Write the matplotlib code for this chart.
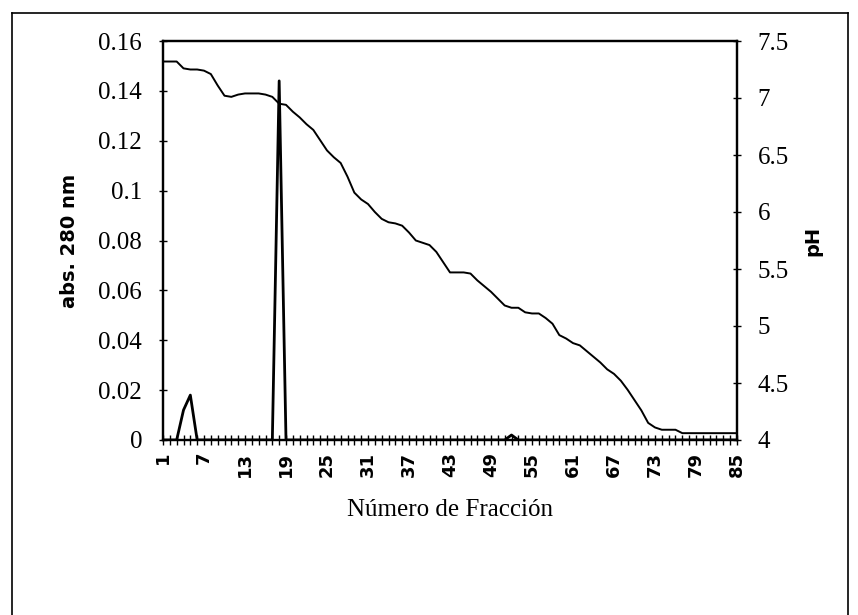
import numpy as np
import matplotlib.pyplot as plt
from matplotlib.lines import Line2D

# fraction numbers 1..85
fracciones = list(range(1, 86))

# absorbance at 280 nm (mostly zero)
absorbancia = [0.0] * 85
absorbancia[3] = 0.012   # fraction 4
absorbancia[4] = 0.018   # fraction 5
absorbancia[17] = 0.144  # fraction 18
absorbancia[51] = 0.002  # fraction 52

# pH gradient
ph = [7.32, 7.32, 7.32, 7.26, 7.25, 7.25, 7.24, 7.21, 7.11, 7.02,
      7.01, 7.03, 7.04, 7.04, 7.04, 7.03, 7.01, 6.95, 6.94, 6.88,
      6.83, 6.77, 6.72, 6.63, 6.54, 6.48, 6.43, 6.31, 6.17, 6.11,
      6.07, 6.00, 5.94, 5.91, 5.90, 5.88, 5.82, 5.75, 5.73, 5.71,
      5.65, 5.56, 5.47, 5.47, 5.47, 5.46, 5.40, 5.35, 5.30, 5.24,
      5.18, 5.16, 5.16, 5.12, 5.11, 5.11, 5.07, 5.02, 4.92, 4.89,
      4.85, 4.83, 4.78, 4.73, 4.68, 4.62, 4.58, 4.52, 4.44, 4.35,
      4.26, 4.15, 4.11, 4.09, 4.09, 4.09, 4.06, 4.06, 4.06, 4.06,
      4.06, 4.06, 4.06, 4.06, 4.06]

etiquetas_x = list(range(1, 86, 6))

serif = "Liberation Serif"

fig = plt.figure(figsize=(8.58, 6.15), dpi=100)
ax = fig.add_axes([163/858, 1 - 440/615, 574/858, 399/615])
ax2 = ax.twinx()

ax.plot(fracciones, absorbancia, color="black", lw=2)
ax2.plot(fracciones, ph, color="black", lw=1.4)

ax.set_xlim(1, 85)
ax.set_ylim(0, 0.16)
ax2.set_ylim(4, 7.5)

ax.set_yticks(np.arange(0, 0.161, 0.02))
ax.set_yticklabels(["0", "0.02", "0.04", "0.06", "0.08", "0.1", "0.12", "0.14", "0.16"],
                   fontfamily=serif, fontsize=18)
ax2.set_yticks(np.arange(4, 7.51, 0.5))
ax2.set_yticklabels(["4", "4.5", "5", "5.5", "6", "6.5", "7", "7.5"],
                    fontfamily=serif, fontsize=18)

ax.set_xticks(etiquetas_x)
ax.set_xticklabels([str(v) for v in etiquetas_x], rotation=90,
                   fontweight="bold", fontsize=13)
ax.set_xticks(fracciones, minor=True)

ax.tick_params(axis="x", which="both", direction="inout", length=7, width=1, pad=5)
ax.tick_params(axis="y", direction="inout", length=6, width=1, pad=12)
ax2.tick_params(axis="y", direction="inout", length=6, width=1, pad=12)

for a in (ax, ax2):
    for s in a.spines.values():
        s.set_linewidth(1.6)

ax.set_ylabel("abs. 280 nm", fontweight="bold", fontsize=14, labelpad=14)
ax2.set_ylabel("pH", fontweight="bold", fontsize=14, labelpad=10)
ax.set_xlabel("Número de Fracción", fontfamily=serif, fontsize=18, labelpad=16)

# chart area border
for xs, ys in [((12/858, 12/858), (0, 1 - 13/615)),
               ((12/858, 848/858), (1 - 13/615, 1 - 13/615)),
               ((848/858, 848/858), (0, 1 - 13/615))]:
    fig.add_artist(Line2D(xs, ys, color="black", lw=1.2, transform=fig.transFigure))

fig.savefig("out.png", dpi=100)
